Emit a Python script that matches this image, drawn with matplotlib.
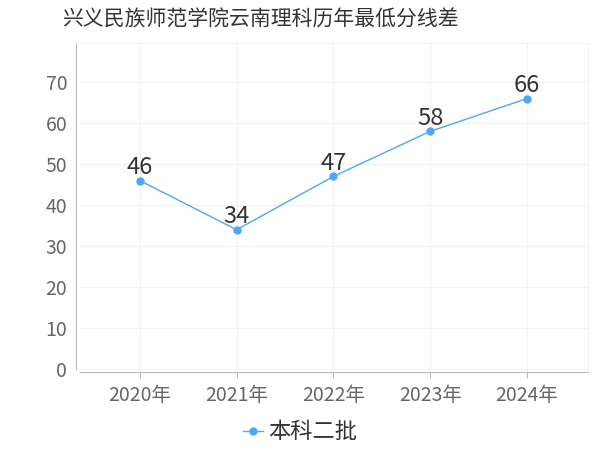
import matplotlib
matplotlib.use('Agg')
import matplotlib.pyplot as plt

plt.rcParams['font.family'] = ['Noto Sans CJK SC', 'DejaVu Sans']

years = ['2020年', '2021年', '2022年', '2023年', '2024年']
scores = [46, 34, 47, 58, 66]
series_name = '本科二批'
title = '兴义民族师范学院云南理科历年最低分线差'

line_color = '#4ea6f7'

fig = plt.figure(figsize=(6, 4.5), dpi=100)
ax = fig.add_axes([0.133, 0.173, 0.847, 0.731])

x = list(range(len(years)))
ax.plot(x, scores, color=line_color, lw=1, marker='o', ms=5, label=series_name)
for xi, v in zip(x, scores):
    ax.annotate(str(v), (xi, v), xytext=(0, 1), textcoords='offset points',
                ha='center', va='bottom', fontsize=17, color='#333333')

ax.set_xlim(-0.62, 4.63)
ax.set_ylim(-0.73, 79.5)
ax.set_xticks(x)
ax.set_xticklabels(years)
ax.set_yticks(range(0, 80, 10))
ax.tick_params(axis='both', labelsize=14, colors='#666666', length=0)
ax.tick_params(axis='x', pad=5, length=4, color='#bbbbbb')
ax.tick_params(axis='y', pad=6)

ax.grid(True, color='#f2f2f2', lw=1)
ax.set_axisbelow(True)
for s in ['top', 'right']:
    ax.spines[s].set_color('#f2f2f2')
ax.spines['bottom'].set_color('#bbbbbb')
ax.spines['left'].set_color('#bbbbbb')
ax.spines['left'].set_position(('outward', 3))
ax.spines['left'].set_bounds(0, 79.5)

fig.text(0.103, 0.957, title, fontsize=15, color='#333333', ha='left', va='center')

fig.legend(loc='center', bbox_to_anchor=(0.5, 0.04), frameon=False, fontsize=16,
           handlelength=0.9, handletextpad=0.2, labelcolor='#333333')

fig.savefig('out.png', dpi=100)
